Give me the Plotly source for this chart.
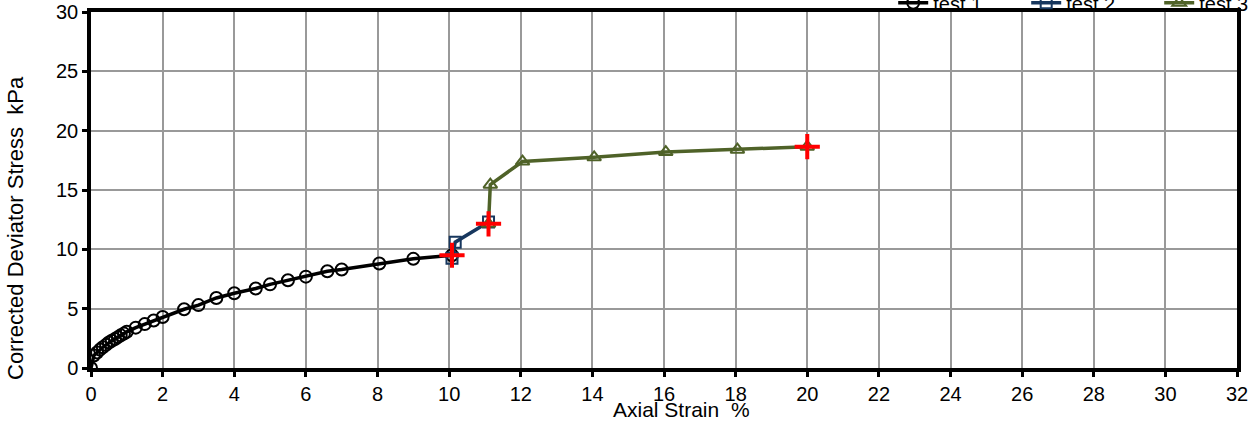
import plotly.graph_objects as go

# Axial strain (%) and corrected deviator stress (kPa) for each test stage
test1_strain = [0, 0.08, 0.17, 0.25, 0.33, 0.42, 0.5, 0.58, 0.67, 0.75, 0.83, 0.92, 1.0,
                1.25, 1.5, 1.75, 2.0, 2.6, 3.0, 3.5, 4.0, 4.6, 5.0, 5.5, 6.0, 6.6, 7.0,
                8.05, 9.0, 10.08]
test1_stress = [0, 1.05, 1.3, 1.55, 1.75, 1.95, 2.15, 2.3, 2.45, 2.6, 2.75, 2.9, 3.05,
                3.4, 3.7, 4.0, 4.3, 4.95, 5.3, 5.9, 6.3, 6.7, 7.05, 7.4, 7.7, 8.15, 8.3,
                8.8, 9.2, 9.5]

test2_strain = [10.08, 10.17, 11.1]
test2_stress = [9.25, 10.6, 12.3]

test3_strain = [11.1, 11.15, 12.05, 14.05, 16.05, 18.05, 20.0]
test3_stress = [12.15, 15.45, 17.4, 17.75, 18.2, 18.4, 18.65]

# End-of-stage points
end_strain = [10.08, 11.1, 20.0]
end_stress = [9.5, 12.15, 18.65]

x_ticks = list(range(0, 33, 2))
y_ticks = list(range(0, 31, 5))

FONT = "Liberation Sans, Arial, sans-serif"

fig = go.Figure()

fig.add_trace(go.Scatter(
    x=test1_strain, y=test1_stress, name="test 1", mode="lines+markers",
    line=dict(color="#000000", width=3.5),
    marker=dict(symbol="circle-open", size=12, color="#000000", line=dict(width=2)),
))
fig.add_trace(go.Scatter(
    x=test2_strain, y=test2_stress, name="test 2", mode="lines+markers",
    line=dict(color="#17375E", width=3.5),
    marker=dict(symbol="square-open", size=11, color="#17375E", line=dict(width=2)),
))
fig.add_trace(go.Scatter(
    x=test3_strain, y=test3_stress, name="test 3", mode="lines+markers",
    line=dict(color="#4F6228", width=3.5),
    marker=dict(symbol="triangle-up-open", size=12, color="#4F6228", line=dict(width=2)),
))
fig.add_trace(go.Scatter(
    x=end_strain, y=end_stress, name="end", mode="markers", showlegend=False,
    marker=dict(symbol="cross-thin", size=18, color="#FF0000",
                line=dict(width=4, color="#FF0000")),
))

axis_common = dict(
    showline=True, linecolor="#000000", linewidth=3.5, mirror=True,
    showgrid=True, gridcolor="#999999", gridwidth=2,
    ticks="outside", ticklen=5, tickwidth=3, tickcolor="#000000",
    tickfont=dict(family=FONT, size=20, color="#000000"),
    zeroline=False,
)

fig.update_xaxes(range=[0, 32], tickvals=x_ticks, **axis_common)
fig.update_yaxes(range=[0, 30], tickvals=y_ticks, **axis_common)

fig.update_layout(
    width=1258, height=421,
    margin=dict(l=91, r=21, t=12, b=53, autoexpand=False),
    paper_bgcolor="#FFFFFF", plot_bgcolor="#FFFFFF",
    font=dict(family=FONT, size=20, color="#000000"),
    legend=dict(
        orientation="h", x=0.7, xanchor="left", y=1.026, yanchor="middle",
        bgcolor="rgba(0,0,0,0)", font=dict(family=FONT, size=20, color="#000000"),
        entrywidth=88, entrywidthmode="pixels", itemwidth=30,
    ),
    annotations=[
        dict(text="Axial Strain  %", xref="paper", yref="paper",
             x=(681 - 91) / 1146, y=-(409 - 368) / 356, xanchor="center", yanchor="middle",
             showarrow=False, font=dict(family=FONT, size=21, color="#000000")),
        dict(text="Corrected Deviator Stress  kPa", xref="paper", yref="paper",
             x=-(91 - 16) / 1146, y=(368 - 228) / 356, xanchor="center", yanchor="middle",
             textangle=-90, showarrow=False,
             font=dict(family=FONT, size=22, color="#000000")),
    ],
)

fig.write_html("out.html")
